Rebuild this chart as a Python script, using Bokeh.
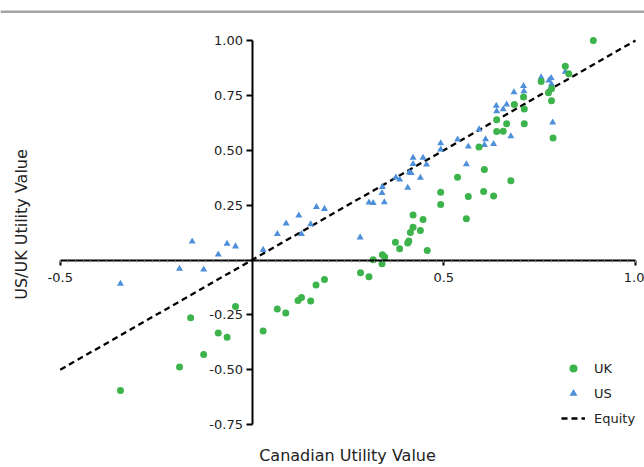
import numpy as np
from bokeh.plotting import figure
from bokeh.models import (Range1d, FixedTicker, NumeralTickFormatter, Span, Label,
                          Legend, LegendItem, ColumnDataSource)
from bokeh.embed import file_html
from bokeh.resources import INLINE

# ---------------- data ----------------
uk_x = [-0.343, -0.189, -0.160, -0.126, -0.088, -0.065, -0.043, 0.029, 0.066, 0.088,
        0.120, 0.129, 0.153, 0.167, 0.189, 0.283, 0.305, 0.316, 0.339, 0.340,
        0.346, 0.374, 0.385, 0.406, 0.409, 0.413, 0.420, 0.420, 0.439, 0.446,
        0.457, 0.492, 0.492, 0.536, 0.559, 0.564, 0.606, 0.604, 0.630, 0.592,
        0.638, 0.638, 0.655, 0.664, 0.675, 0.684, 0.708, 0.710, 0.710, 0.754,
        0.773, 0.781, 0.781, 0.785, 0.817, 0.826, 0.890]
uk_y = [-0.595, -0.488, -0.263, -0.431, -0.333, -0.352, -0.212, -0.323, -0.223, -0.242,
        -0.185, -0.171, -0.187, -0.114, -0.089, -0.058, -0.076, 0.001, -0.017, 0.024,
        0.014, 0.081, 0.051, 0.078, 0.086, 0.125, 0.149, 0.205, 0.134, 0.185,
        0.043, 0.309, 0.253, 0.377, 0.188, 0.289, 0.412, 0.312, 0.292, 0.515,
        0.639, 0.585, 0.587, 0.621, 0.361, 0.708, 0.743, 0.688, 0.621, 0.813,
        0.762, 0.780, 0.725, 0.556, 0.883, 0.848, 1.000]

us_x = [-0.343, -0.189, -0.156, -0.126, -0.088, -0.065, -0.043, 0.029, 0.066, 0.089,
        0.122, 0.129, 0.153, 0.168, 0.189, 0.282, 0.305, 0.316, 0.345, 0.339,
        0.340, 0.375, 0.385, 0.406, 0.410, 0.415, 0.420, 0.420, 0.439, 0.446,
        0.455, 0.492, 0.492, 0.536, 0.559, 0.564, 0.592, 0.606, 0.609, 0.630,
        0.637, 0.638, 0.655, 0.664, 0.675, 0.683, 0.708, 0.709, 0.754, 0.774,
        0.780, 0.781, 0.784, 0.817]
us_y = [-0.108, -0.040, 0.084, -0.043, 0.025, 0.074, 0.062, 0.046, 0.118, 0.166,
        0.203, 0.118, 0.163, 0.241, 0.233, 0.103, 0.262, 0.260, 0.263, 0.305,
        0.333, 0.376, 0.367, 0.329, 0.399, 0.396, 0.437, 0.466, 0.375, 0.466,
        0.435, 0.503, 0.532, 0.549, 0.436, 0.517, 0.595, 0.524, 0.550, 0.528,
        0.703, 0.678, 0.687, 0.708, 0.564, 0.764, 0.793, 0.769, 0.832, 0.818,
        0.829, 0.801, 0.626, 0.858]

equity_x = [-0.5, 1.0]
equity_y = [-0.5, 1.0]

x_ticks = [-0.5, 0.5, 1.0]
y_ticks = [-0.75, -0.5, -0.25, 0.25, 0.5, 0.75, 1.0]

series_names = ["UK", "US", "Equity"]
x_title = "Canadian Utility Value"
y_title = "US/UK Utility Value"

# ---------------- layout (pixels) ----------------
W, H = 644, 467
OX, OY = 0, 0            # canvas offset on the picture
PX0, PXU = 251.5, 383.5  # picture x of data x=0, pixels per unit
PY0, PYU = 259.5, 219.5  # picture y of data y=0, pixels per unit

x_range = Range1d((OX - PX0) / PXU, (OX + W - PX0) / PXU)
y_range = Range1d((PY0 - (OY + H)) / PYU, (PY0 - OY) / PYU)

FONT = "DejaVu Sans"
TXT = "#222222"
GREEN = "#3cb44b"
BLUE = "#4d8fd8"

p = figure(width=W, height=H, x_range=x_range, y_range=y_range,
           output_backend="svg", toolbar_location=None,
           min_border=0, min_border_left=0, min_border_right=0,
           min_border_top=0, min_border_bottom=0)
p.title.visible = False
p.grid.visible = False
p.outline_line_color = None
p.background_fill_color = "white"
p.border_fill_color = "white"

# top grey rule
TOP_RULE_Y = 11.3
p.add_layout(Span(location=(PY0 - TOP_RULE_Y) / PYU, dimension="width",
                  line_color="#a4a4a4", line_width=2.5))

# axes crossing at origin
xa = p.xaxis[0]
ya = p.yaxis[0]
xa.fixed_location = 0
ya.fixed_location = 0
xa.bounds = (-0.5, 1.0)
ya.bounds = (-0.75, 1.0)
xa.ticker = FixedTicker(ticks=x_ticks,
                        minor_ticks=[float(v) for v in np.round(np.arange(-0.5, 1.0001, 0.02), 4)])
ya.ticker = FixedTicker(ticks=y_ticks, minor_ticks=[])
xa.formatter = NumeralTickFormatter(format="0.0")
ya.formatter = NumeralTickFormatter(format="0.00")
for ax in (xa, ya):
    ax.axis_line_color = "black"
    ax.axis_line_width = 2
    ax.major_tick_line_color = "black"
    ax.major_tick_line_width = 2
    ax.major_tick_in = 0
    ax.major_label_text_font = FONT
    ax.major_label_text_font_size = "13px"
    ax.major_label_text_color = TXT
xa.major_tick_out = 5
xa.major_label_standoff = 8
xa.minor_tick_in = 0
xa.minor_tick_out = 2
xa.minor_tick_line_color = "#999999"
xa.minor_tick_line_width = 1
ya.major_tick_out = 6
ya.major_label_standoff = 3
ya.minor_tick_line_color = None

# equity line and series
eq = p.line(equity_x, equity_y, line_color="black", line_width=2.3, line_dash="6 4")
uk_src = ColumnDataSource(dict(x=uk_x, y=uk_y))
us_src = ColumnDataSource(dict(x=us_x, y=us_y))
us_r = p.scatter("x", "y", source=us_src, marker="triangle", size=7,
                 fill_color=BLUE, line_color=None)
uk_r = p.scatter("x", "y", source=uk_src, marker="circle", size=7,
                 fill_color=GREEN, line_color=None)

# axis titles
p.add_layout(Label(x=347 - OX, y=(OY + H) - 455, x_units="screen", y_units="screen",
                   text=x_title, text_font=FONT, text_font_size="16px",
                   text_color=TXT, text_align="center", text_baseline="middle"))
p.add_layout(Label(x=20.5 - OX, y=(OY + H) - 224, x_units="screen", y_units="screen",
                   text=y_title, text_font=FONT, text_font_size="16px", angle=np.pi / 2,
                   text_color=TXT, text_align="center", text_baseline="middle"))

legend = Legend(items=[LegendItem(label=series_names[0], renderers=[uk_r]),
                       LegendItem(label=series_names[1], renderers=[us_r]),
                       LegendItem(label=series_names[2], renderers=[eq])],
                location=(561 - OX, (OY + H) - 428), orientation="vertical",
                border_line_color=None, background_fill_alpha=0,
                padding=0, margin=0, spacing=5, glyph_width=24, glyph_height=20,
                label_height=20, label_standoff=9, label_text_font=FONT,
                label_text_font_size="13px", label_text_color=TXT)
p.add_layout(legend)

open("out.html", "w").write(file_html(p, INLINE))
